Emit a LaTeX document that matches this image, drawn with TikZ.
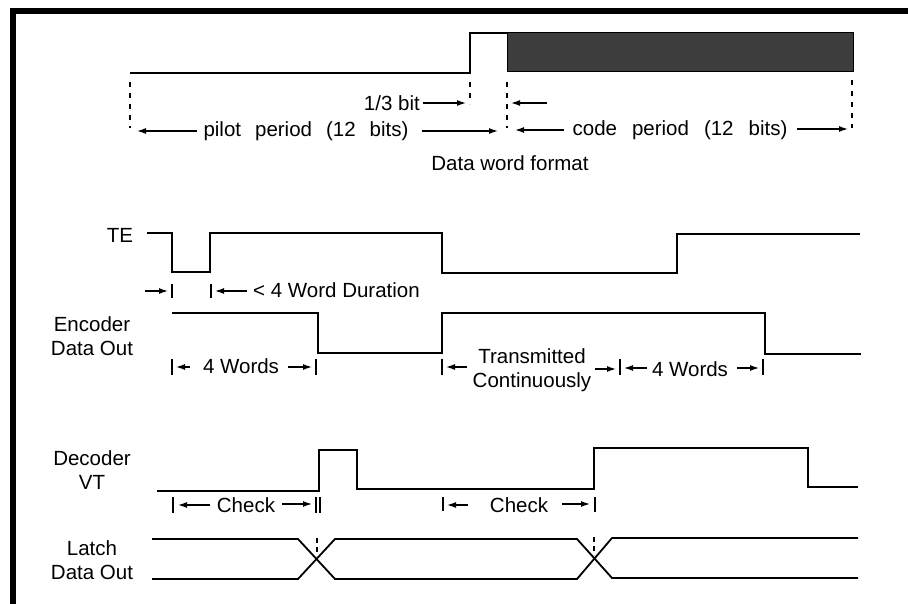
\documentclass[tikz,border=0pt]{standalone}
\usepackage{fontspec}
\setmainfont{Liberation Sans}
\usetikzlibrary{arrows.meta}
\begin{document}
\begin{tikzpicture}[x=1pt,y=-1pt,
  wave/.style={line width=1.8pt,line join=miter},
  arr/.style={line width=1.3pt,-{Latex[length=9pt,width=6pt]}},
  tickmark/.style={line width=1.4pt},
  dsh/.style={line width=1.3pt,dash pattern=on 5pt off 6pt},
  lbl/.style={font=\fontsize{20.5}{24}\selectfont,inner sep=0pt,align=center},
]
\useasboundingbox (0,0) rectangle (908,604);
% frame
\fill (10,8) rectangle (908,14);
\fill (10,8) rectangle (16,604);

% ---------- data word format ----------
\draw[wave] (130,73) -- (470,73) -- (470,33) -- (507,33);
\filldraw[fill=black!76,draw=black,line width=1pt] (507,33) rectangle (853,72);
\draw[dsh] (130,82) -- (130,128);
\draw[dsh] (470,82) -- (470,104);
\draw[dsh] (507,82) -- (507,128);
\draw[dsh] (852,80) -- (852,128);

\node[lbl,anchor=east] (third) at (420,103) {1/3 bit};
\draw[arr] (423,103) -- (466,103);
\draw[arr] (547,103) -- (511,103);

\node[lbl] (pilot) at (306,131) {pilot\hspace{14pt}period\hspace{14pt}(12\hspace{14pt}bits)};
\draw[arr] (197,131) -- (137,131);
\draw[arr] (422,131) -- (498,131);
\node[lbl] (code) at (680,130) {code\hspace{15pt}period\hspace{15pt}(12\hspace{15pt}bits)};
\draw[arr] (564,130) -- (515,130);
\draw[arr] (797,129) -- (848,129);
\node[lbl] (fmt) at (510,163) {Data word format};

% ---------- TE ----------
\node[lbl] (te) at (120,235) {TE};
\draw[wave] (147,233) -- (172,233) -- (172,272) -- (210,272) -- (210,233)
  -- (442,233) -- (442,273) -- (677,273) -- (677,234) -- (860,234);
\draw[tickmark] (172,284) -- (172,298);
\draw[tickmark] (211,284) -- (211,298);
\draw[arr] (145,291) -- (168,291);
\draw[arr] (247,291) -- (215,291);
\node[lbl,anchor=west] (dur) at (253,290) {< 4 Word Duration};

% ---------- Encoder ----------
\node[lbl] (enc) at (92,336) {Encoder\\Data Out};
\draw[wave] (172,313) -- (318,313) -- (318,353) -- (442,353) -- (442,313)
  -- (765,313) -- (765,354) -- (861,354);
\foreach \x in {172,316,442,620,763} \draw[tickmark] (\x,359) -- (\x,375);
\draw[arr] (190,367) -- (176,367);
\draw[arr] (288,367) -- (312,367);
\node[lbl] (w1) at (241,366) {4 Words};
\draw[arr] (467,367) -- (446,367);
\node[lbl] (tc) at (532,370) {Transmitted\\Continuously};
\draw[arr] (595,369) -- (616,369);
\draw[arr] (647,368) -- (624,368);
\node[lbl] (w2) at (690,369) {4 Words};
\draw[arr] (737,368) -- (759,368);

% ---------- Decoder VT ----------
\node[lbl] (dec) at (92,470) {Decoder\\VT};
\draw[wave] (157,491) -- (319,491) -- (319,450) -- (357,450) -- (357,489)
  -- (594,489) -- (594,448) -- (808,448) -- (808,487) -- (858,487);
\draw[tickmark] (173,497) -- (173,513);
\draw[tickmark] (316,497) -- (316,513);
\draw[tickmark] (320,497) -- (320,513);
\draw[tickmark] (443,497) -- (443,511);
\draw[tickmark] (595,497) -- (595,512);
\draw[arr] (210,505) -- (178,505);
\node[lbl] (c1) at (246,505) {Check};
\draw[arr] (282,504) -- (312,504);
\draw[arr] (468,505) -- (447,505);
\node[lbl] (c2) at (519,505) {Check};
\draw[arr] (562,504) -- (590,504);

% ---------- Latch ----------
\node[lbl] (lat) at (92,560) {Latch\\Data Out};
\draw[wave] (152,539) -- (298,539) -- (335,579) -- (577,579) -- (612,538) -- (858,538);
\draw[wave] (152,579) -- (298,579) -- (335,539) -- (577,539) -- (612,578) -- (858,578);
\draw[line width=1.2pt,dash pattern=on 5pt off 4pt] (317,538) -- (317,556);
\draw[line width=1.2pt,dash pattern=on 5pt off 4pt] (594,537) -- (594,555);
\end{tikzpicture}
\end{document}
